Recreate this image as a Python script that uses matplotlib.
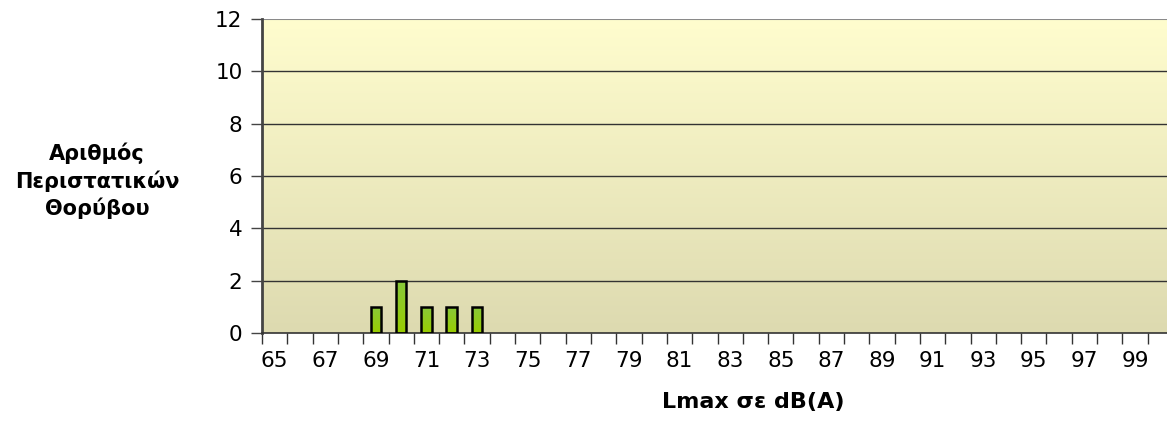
import matplotlib
matplotlib.use("Agg")
import matplotlib.pyplot as plt
import numpy as np
from matplotlib.colors import LinearSegmentedColormap

# data
levels = list(range(65, 101))
counts = [0] * len(levels)
events = {69: 1, 70: 2, 71: 1, 72: 1, 73: 1}
for k, v in events.items():
    counts[levels.index(k)] = v
y_ticks = [0, 2, 4, 6, 8, 10, 12]

plt.rcParams['font.family'] = ['DejaVu Sans']

fig = plt.figure(figsize=(11.67, 4.28), dpi=100)
ax = fig.add_axes([262 / 1167, 1 - 333 / 428, 911 / 1167, 314 / 428])

# background gradient (light yellow top -> tan bottom)
bg = LinearSegmentedColormap.from_list("bg", ["#DDDAB0", "#FFFDCE"])
grad = np.linspace(0, 1, 256).reshape(-1, 1)
ax.imshow(grad, cmap=bg, aspect="auto", extent=[0, 1, 0, 1],
          transform=ax.transAxes, origin="lower", zorder=0)

x = np.arange(len(levels))
bars = ax.bar(x, counts, width=0.42, color="none", edgecolor="black",
              linewidth=1.8, zorder=3)

# green gradient inside each bar
green = LinearSegmentedColormap.from_list("gr", ["#99CC00", "#88C83C"])
for b, c in zip(bars, counts):
    if c == 0:
        b.set_visible(False)
        continue
    im = ax.imshow(grad, cmap=green, aspect="auto", origin="lower",
                   extent=[b.get_x(), b.get_x() + b.get_width(), 0, c],
                   zorder=2)
    im.set_clip_path(b)

ax.set_xlim(-0.5, len(levels) - 0.5)
ax.set_ylim(0, 12)

for yv in y_ticks[1:-1]:
    ax.axhline(yv, color="#333333", linewidth=1, zorder=1)
ax.axhline(12, color="#8a8a8a", linewidth=1.5, zorder=1)

ax.set_yticks(y_ticks)
ax.tick_params(axis="y", direction="out", length=8, width=1, color="#444444",
               labelsize=15.5, pad=6)

# x ticks at category boundaries, labels at every other category centre
ax.set_xticks(np.arange(-0.5, len(levels), 1))
ax.set_xticklabels([])
ax.set_xticks(x[::2], minor=True)
ax.set_xticklabels([str(v) for v in levels[::2]], minor=True)
ax.tick_params(axis="x", which="major", direction="out", length=8, width=1,
               color="#333333")
ax.tick_params(axis="x", which="minor", length=0, labelsize=15.5, pad=13)

for s in ["top", "right"]:
    ax.spines[s].set_visible(False)
ax.spines["left"].set_color("#444444")
ax.spines["left"].set_linewidth(2)
ax.spines["bottom"].set_color("#333333")
ax.spines["bottom"].set_linewidth(1.2)

fig.text(97 / 1167, 1 - 181 / 428, "Αριθμός\nΠεριστατικών\nΘορύβου",
         ha="center", va="center", fontsize=15, fontweight="bold",
         linespacing=1.35)
fig.text(753 / 1167, 1 - 402 / 428, "Lmax σε dB(A)", ha="center",
         va="center", fontsize=16, fontweight="bold")

fig.savefig("out.png", dpi=100)
